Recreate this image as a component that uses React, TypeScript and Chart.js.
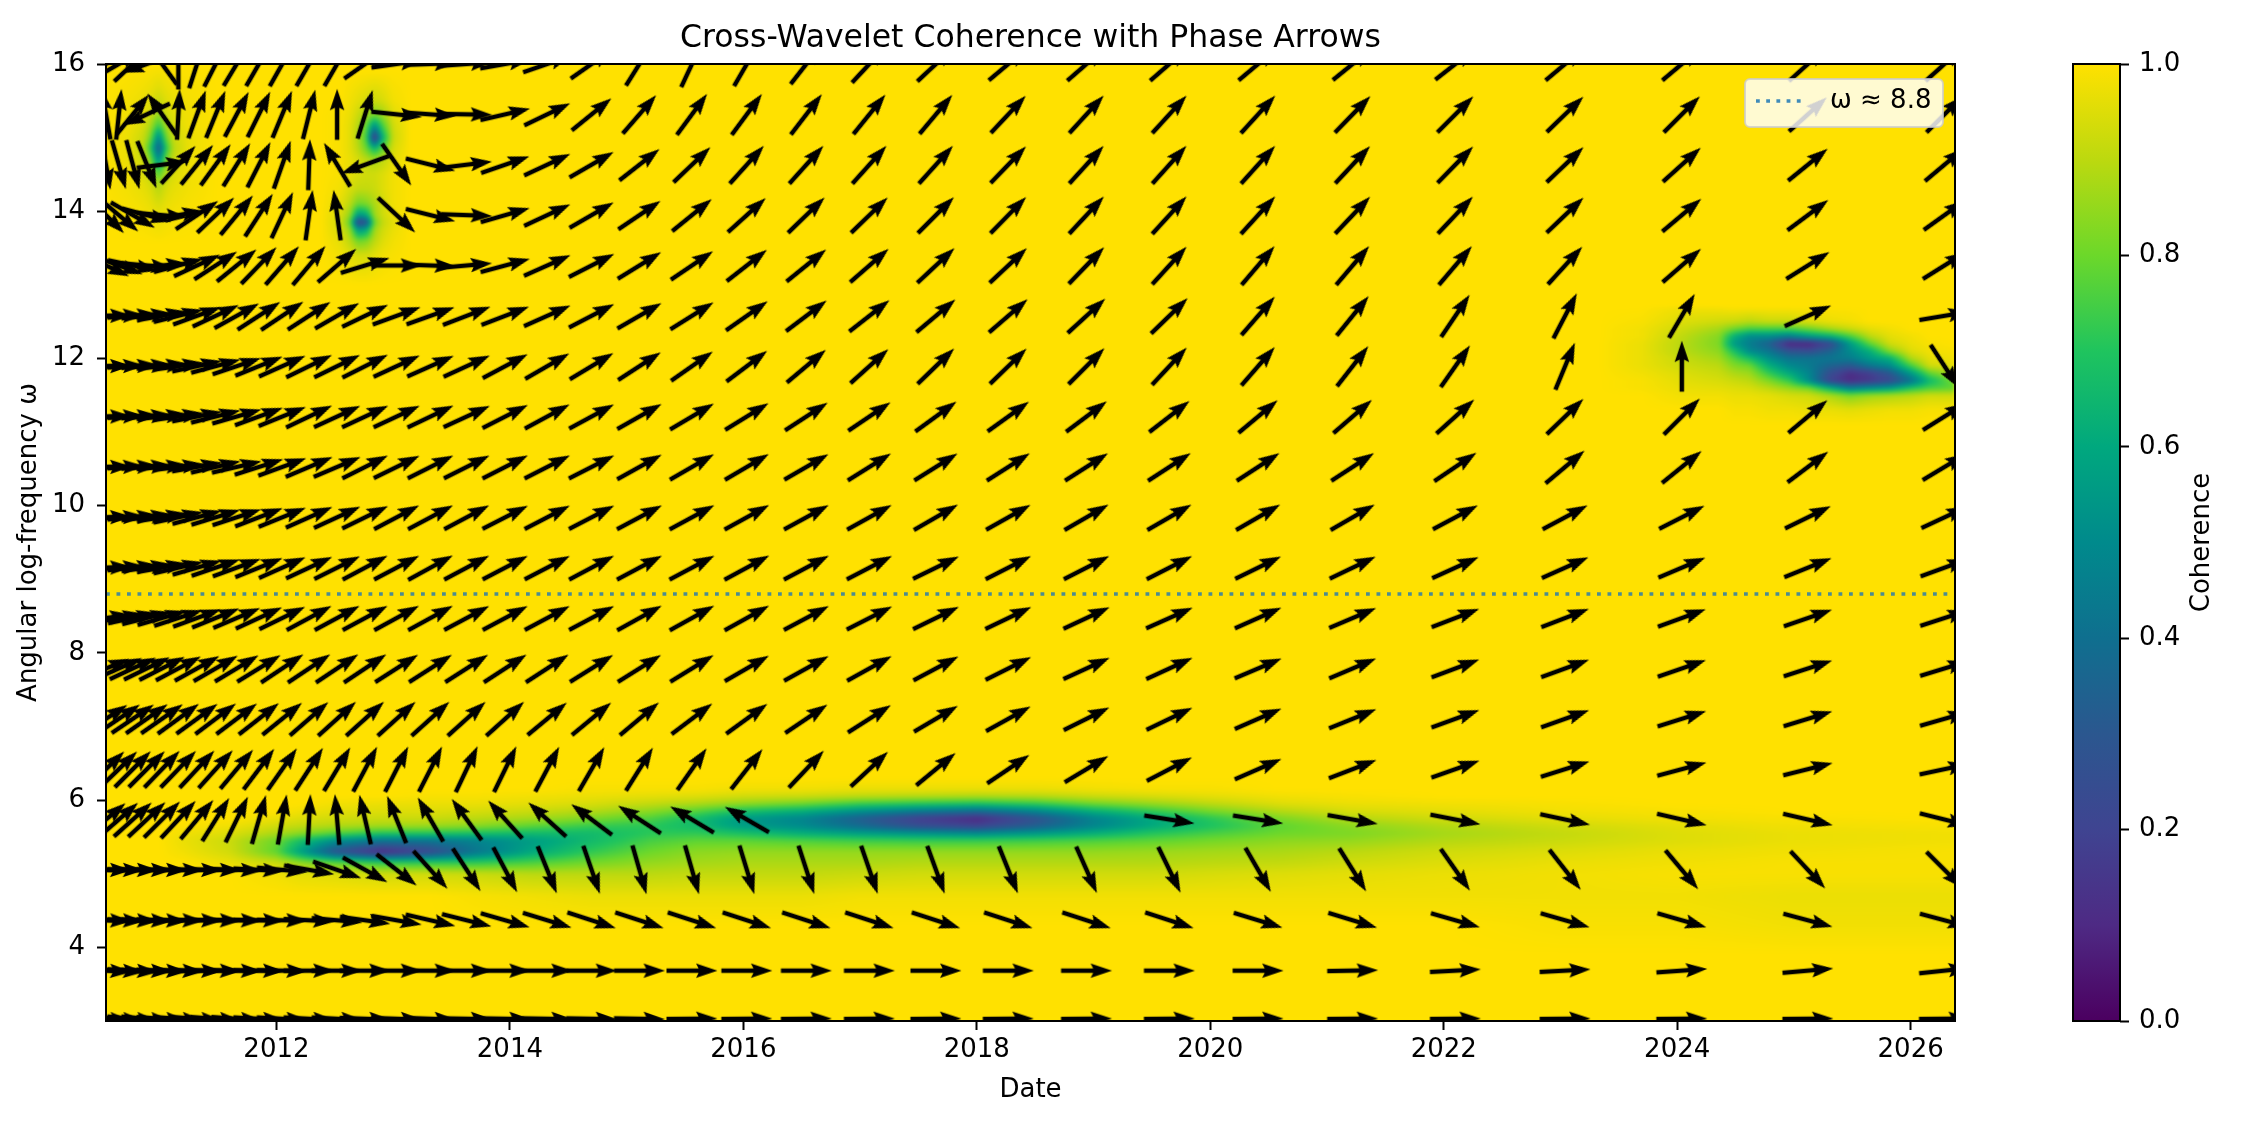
import React, { useEffect, useRef } from "react";
import { Chart, registerables } from "chart.js";

Chart.register(...registerables);

const FONT = '"DejaVu Sans"';
const chartTitle = "Cross-Wavelet Coherence with Phase Arrows";
const xAxisTitle = "Date";
const yAxisTitle = "Angular log-frequency ω";
const colorbarTitle = "Coherence";
const legendLabel = "ω ≈ 8.8";
const referenceOmega = 8.8;
const xRange = [2010.54, 2026.38];
const yRange = [3, 16];
const xTicks = [2012, 2014, 2016, 2018, 2020, 2022, 2024, 2026];
const yTicks = [4, 6, 8, 10, 12, 14, 16];
const colorbarTicks = [0, 0.2, 0.4, 0.6, 0.8, 1];

const colourStops: [number, string][] = [
  [0, "#4b0060"], [0.1, "#4e2a84"], [0.2, "#3f4491"], [0.3, "#2b578f"], [0.4, "#0f6f8f"],
  [0.5, "#008a8c"], [0.6, "#00a87e"], [0.7, "#1fc45e"], [0.8, "#6cd82a"], [0.9, "#bcd90f"], [1, "#ffe100"],
];

// Arrow grid: dates (columns) and frequencies (rows)
const arrowDates = [
  2010.54, 2010.65, 2010.77, 2010.89, 2011.02, 2011.16, 2011.32, 2011.48, 2011.66, 2011.85, 2012.05, 2012.28,
  2012.52, 2012.76, 2013.03, 2013.32, 2013.63, 2013.96, 2014.32, 2014.70, 2015.11, 2015.56, 2016.03, 2016.54,
  2017.08, 2017.65, 2018.27, 2018.94, 2019.65, 2020.41, 2021.22, 2022.10, 2023.04, 2024.04, 2025.12, 2026.29,
];
const arrowFreqs = [
  3.03, 3.684, 4.368, 5.053, 5.737, 6.421, 7.105, 7.789, 8.474, 9.158,
  9.842, 10.526, 11.211, 11.895, 12.579, 13.263, 13.947, 14.632, 15.316, 16.0,
];
const _ = null;
const phase00 = [-5,-5,-5,-5,-4,-4,-4,-4,-4,-3,-3,-3,-3,-2,-2,-2,-1,-1,-1,-1,-1,0.5,0.5,0.5,0.5,0.5,0.5,0.5,0.5,0.5,0.5,0.5,0.5,0.5,0.5,0.5];
const phase01 = [-3,-3,-3,-2,-2,-2,-1,-1,-1,-1,-1,0,0,0,0,0,0,0,0,0,0,0,0,0,0,0,0,0,0,0,1,3,3,4,5,6];
const phase02 = [-2,-2,-2,-2,-2,-1,-1,-1,-1,-1,-1,-3,-5,-8,-10,-13,-14,-16,-17,-18,-18,-18,-18,-18,-18,-18,-18,-18,-18,-17,-17,-16,-16,-16,-15,-15];
const phase03 = [-1,-1,-1,-1,-1,-1,-1,-1,-2,-3,-5,-10,-19,-29,-38,-48,-57,-62,-68,-71,-74,-74,-73,-72,-71,-70,-68,-66,-64,-60,-58,-55,-52,-50,-47,-45];
const phase04 = [40,41,42,43,45,47,50,58,64,74,80,87,95,103,112,120,126,132,138,143,147,149,150,_,_,_,_,_,-9,-9,-10,-11,-12,-13,-13,-14];
const phase05 = [44,44,45,45,46,46,47,48,50,53,55,57,59,62,63,63,64.6,64,62,60,58,55,52,46.6,43,39.5,34,31,27.5,23.6,21,19.4,17.5,15,14,12];
const phase06 = [33,34,34,35,35,36,36,37,37,38,39,41,42,42,42,42,42,42,39.6,39.6,40,37,36,34,32.5,30.5,29,26.4,25.7,23.6,22,20,19.6,17.5,17,16];
const phase07 = [22,24,25,26,27,28,29,30,31,31.6,33.7,33.7,33.7,33.7,32.6,32.6,32.6,33,33,32,32,31.6,30,29,29,28,26.6,24.7,24.7,23,23,20.5,20,19,18,17];
const phase08 = [8,10,12,14,16,18,20,22,23,24.7,26,28.3,28.3,28.3,28.6,28.7,28,28,28,28,29,29,29,28,27,26,25.6,25,24,24,23,21,21,20,19,18];
const phase09 = [2,4,6,8,10,13,16,18.7,20,22,24,25,26.5,28,27.8,28.7,28,27.5,27.4,28,28,28,28.4,28,27.4,26,27,27,27,26,25.6,24.4,24,23,22,20];
const phase10 = [2,3,5,7,9,12,15,17,18,21,22,24,24.7,26,27.8,28,28,27,27.4,27.4,28,28.4,28.8,28.6,29,30,29.3,30,30,30,30,28,28,27,26,25];
const phase11 = [1,2,3,4,5,7,10,13,13,17.7,20,23,23,26.6,26,26.6,26.6,27,27,27,29,30,30.4,30,32,32,32.5,32.5,33,33,33,34,40,39,37,31];
const phase12 = [1,2,3,4,6,8,11,14,16,20,22,25.5,24.7,25,25,25.5,24.7,27,28.4,28.4,29.5,30.6,31.6,33,34,36,35.7,36.8,37.7,39.8,40.8,42,44,45,40,32];
const phase13 = [1,2,3,4,6,8,12,15,18.5,22,24,26,26,26.7,24.8,24,24.7,28,30,31,33,35,37,40,42,44,44,45,47,49,52,55,67.5,90,_,-57];
const phase14 = [1,2,4,6,10,14,20,25,29,33,33.7,33,30,25.6,20,19.6,21,21,24,27.4,30,32,35,37,38,40,40.7,42.4,44,49,51,56,62.6,59.6,24,9.5];
const phase15 = [-25,-20,-12,-5,5,15,25,33,39,46,49,50,41,17,0,-2,5,15,24,27,31.6,34,38,39,41,43,43,46,47.6,49.6,49.6,49.6,47.6,41,32,32];
const phase16 = [-45,-40,-30,-15,-5,10,33.7,43.6,50.5,57,65,82,98,_,-43,-14,-2,16,25,30,34,39,42,44,44,45,45.5,47,47.6,47.6,46.6,46.6,43.6,40,36.6,35.6];
const phase17 = [-80,-74,-75,-68,7,47.6,51,54,58,63,70.6,88,121,200,-55,-14,7,19,25,30,38,43.6,48,48,48,48,46,47.6,48,48,47,45.6,43.6,42,39,40];
const phase18 = [100,84,51,205,125,87,70,67.8,62,63.6,67.5,76,90,72.7,-6,-4,-1,13,25.7,39,49,53.6,53.6,52.5,51,50,46.8,47.6,47.6,47.6,45.8,45,44,45,42,45];
const phase19 = [30,30,43,200,126,90,72,63,59,60,60.6,60,60,35,8,2,4,10,19,35,58,65,60,52,47,43,40,41,41,40,39,38,40,40,42,42];
const arrowPhases = [phase00,phase01,phase02,phase03,phase04,phase05,phase06,phase07,phase08,phase09,phase10,phase11,phase12,phase13,phase14,phase15,phase16,phase17,phase18,phase19];

// Coherence: the field is 1 outside these four tables
const bandFreqs = [3.9,4.3,4.7,5.0,5.15,5.3,5.45,5.55,5.65,5.75,5.85,5.95,6.05,6.15,6.3,6.5];
const bandDates = [2011.0,2011.2,2011.6,2012.0,2012.2,2012.5,2012.9,2013.3,2013.7,2014.2,2014.7,2015.2,2015.6,2016.0,2016.5,2017.0,2017.5,2018.0,2018.5,2019.0,2019.5,2020.0,2020.6,2021.2,2022.0,2023.0,2024.0,2025.0,2026.4];
const bandByDate = [
  [1,1,1,1,1,1,1,1,1,1,1,1,1,1,1,1],
  [1,1,1,1,1,.98,.97,.98,1,1,1,1,1,1,1,1],
  [1,1,1,1,.97,.93,.92,.95,.98,1,1,1,1,1,1,1],
  [1,1,1,.98,.92,.78,.8,.88,.93,.97,1,1,1,1,1,1],
  [1,1,1,.96,.85,.58,.68,.84,.91,.95,.98,1,1,1,1,1],
  [1,1,1,.95,.78,.28,.52,.77,.89,.93,.96,.98,1,1,1,1],
  [1,1,1,.93,.72,.1,.42,.7,.87,.92,.95,.97,1,1,1,1],
  [1,1,1,.93,.72,.22,.42,.7,.86,.92,.95,.97,.99,1,1,1],
  [1,1,.99,.92,.72,.42,.47,.68,.84,.9,.94,.97,.99,1,1,1],
  [1,1,.98,.9,.76,.6,.56,.66,.78,.87,.92,.96,.98,1,1,1],
  [1,1,.97,.9,.81,.72,.66,.66,.73,.82,.89,.94,.97,.99,1,1],
  [1,1,.97,.9,.85,.8,.75,.71,.71,.76,.84,.91,.96,.99,1,1],
  [1,1,.97,.91,.87,.84,.78,.72,.66,.67,.77,.88,.95,.99,1,1],
  [1,1,.97,.91,.88,.85,.78,.68,.56,.55,.68,.84,.93,.98,1,1],
  [1,1,.97,.91,.88,.85,.76,.62,.5,.48,.62,.8,.92,.98,1,1],
  [1,1,.98,.92,.88,.85,.74,.57,.38,.33,.52,.73,.9,.97,1,1],
  [1,1,.98,.93,.89,.85,.73,.53,.25,.18,.44,.7,.89,.97,1,1],
  [1,1,.98,.93,.89,.85,.73,.5,.2,.1,.38,.68,.88,.97,1,1],
  [1,1,.98,.93,.89,.85,.74,.55,.33,.27,.48,.72,.89,.97,1,1],
  [1,1,.98,.93,.89,.85,.76,.62,.48,.47,.62,.8,.92,.98,1,1],
  [1,1,.98,.93,.89,.86,.78,.7,.6,.6,.72,.85,.94,.99,1,1],
  [1,1,.98,.94,.9,.87,.81,.75,.69,.71,.81,.9,.96,.99,1,1],
  [1,1,.98,.95,.91,.88,.84,.8,.78,.82,.89,.95,.98,1,1,1],
  [1,1,.98,.96,.93,.9,.85,.82,.84,.89,.94,.97,.99,1,1,1],
  [1,1,.98,.97,.95,.93,.89,.87,.89,.93,.96,.98,1,1,1,1],
  [1,.99,.98,.98,.97,.95,.92,.91,.93,.96,.98,.99,1,1,1,1],
  [1,.99,.98,.99,.98,.97,.95,.95,.96,.98,.99,1,1,1,1,1],
  [1,.98,.97,.99,.99,.98,.97,.97,.98,.99,1,1,1,1,1,1],
  [1,.98,.97,.99,.99,.99,.98,.98,.99,1,1,1,1,1,1,1],
];

const spotADates = [2010.49,2010.73,2010.86,2010.92,2010.99,2011.06,2011.12,2011.25,2011.5];
const spotAFreqs = [13.56,14.06,14.36,14.56,14.71,14.86,15.01,15.16,15.36,15.66,16.0];
const spotA = [
  [1,1,1,1,1,1,1,1,1],
  [1,.99,.98,.97,.95,.97,.98,.99,1],
  [1,.98,.96,.94,.88,.94,.96,.98,1],
  [1,.98,.94,.88,.72,.88,.94,.98,1],
  [1,.97,.92,.82,.5,.82,.92,.97,1],
  [1,.97,.9,.72,.32,.72,.9,.97,1],
  [1,.97,.92,.82,.5,.82,.92,.97,1],
  [1,.98,.94,.88,.72,.88,.94,.98,1],
  [1,.98,.96,.94,.88,.94,.96,.98,1],
  [1,.99,.98,.97,.95,.97,.98,.99,1],
  [1,1,1,1,1,1,1,1,1],
];

const spotBDates = [2012.38,2012.55,2012.63,2012.70,2012.77,2012.84,2012.91,2013.0,2013.15];
const spotBFreqs = [13.0,13.4,13.6,13.75,13.85,13.95,14.1,14.3,14.5,14.7,14.85,15.0,15.15,15.3,15.5,15.9];
const spotB = [
  [1,1,1,1,1,1,1,1,1],
  [1,.98,.96,.94,.94,.96,.98,.99,1],
  [1,.96,.9,.8,.82,.9,.95,.98,1],
  [1,.94,.85,.55,.6,.86,.93,.97,1],
  [1,.93,.78,.2,.28,.8,.91,.96,1],
  [1,.94,.85,.55,.6,.86,.93,.97,1],
  [1,.96,.9,.8,.82,.88,.93,.98,1],
  [1,.98,.94,.91,.91,.92,.95,.98,1],
  [1,.99,.96,.94,.93,.93,.95,.98,1],
  [1,.99,.97,.94,.9,.87,.9,.96,1],
  [1,.99,.96,.9,.8,.65,.78,.94,1],
  [1,.99,.96,.88,.74,.15,.62,.92,1],
  [1,.99,.96,.89,.78,.5,.74,.93,1],
  [1,.99,.97,.92,.86,.8,.85,.95,1],
  [1,1,.98,.96,.94,.92,.94,.98,1],
  [1,1,1,1,1,1,1,1,1],
];

const spotCDates = [2023.33,2023.7,2024.02,2024.36,2024.49,2024.62,2024.79,2024.96,2025.13,2025.31,2025.48,2025.65,2025.82,2026.0,2026.16,2026.38];
const spotCFreqs = [11.1,11.3,11.5,11.6,11.7,11.8,11.9,12.0,12.1,12.2,12.3,12.4,12.5,12.7];
const spotC = [
  [1,1,1,1,1,1,1,1,1,1,1,1,1,1,1,1],
  [1,1,1,1,.99,.99,.98,.98,.97,.97,.96,.97,.98,.98,.99,.99],
  [1,1,.98,.98,.97,.97,.96,.94,.93,.88,.82,.86,.88,.9,.93,.93],
  [1,.99,.97,.96,.95,.94,.9,.85,.8,.62,.45,.5,.55,.68,.75,.78],
  [1,.99,.96,.94,.92,.9,.82,.72,.5,.2,.1,.15,.22,.4,.65,.82],
  [1,.98,.95,.92,.88,.86,.72,.6,.48,.25,.12,.18,.3,.55,.78,.9],
  [1,.97,.93,.9,.83,.8,.62,.5,.44,.35,.3,.42,.5,.74,.93,.96],
  [1,.97,.92,.87,.77,.68,.52,.42,.42,.43,.45,.55,.62,.88,.96,.98],
  [1,.97,.9,.84,.68,.5,.42,.28,.25,.35,.5,.62,.83,.95,.98,.99],
  [1,.97,.9,.82,.55,.45,.33,.08,.08,.22,.55,.78,.93,.97,.99,1],
  [1,.98,.91,.83,.62,.5,.5,.45,.55,.62,.75,.9,.96,.98,1,1],
  [1,.98,.93,.87,.8,.75,.75,.75,.8,.87,.92,.96,.98,1,1,1],
  [1,.99,.95,.93,.92,.9,.92,.92,.95,.97,.98,1,1,1,1,1],
  [1,1,.98,.99,1,1,1,1,1,1,1,1,1,1,1,1],
];

const transpose = (m: number[][]) => m[0].map((_v, j) => m.map((r) => r[j]));
const heatPatches = [
  { dates: bandDates, freqs: bandFreqs, values: transpose(bandByDate) },
  { dates: spotADates, freqs: spotAFreqs, values: spotA },
  { dates: spotBDates, freqs: spotBFreqs, values: spotB },
  { dates: spotCDates, freqs: spotCFreqs, values: spotC },
];

const hexRgb = (h: string) => [1, 3, 5].map((i) => parseInt(h.slice(i, i + 2), 16));
const stopRgb = colourStops.map(([, c]) => hexRgb(c));
function colourAt(v: number) {
  const s = Math.max(0, Math.min(0.99999, v)) * (colourStops.length - 1);
  const i = Math.floor(s);
  const t = s - i;
  const a = stopRgb[i];
  const b = stopRgb[i + 1];
  return [a[0] + (b[0] - a[0]) * t, a[1] + (b[1] - a[1]) * t, a[2] + (b[2] - a[2]) * t];
}

function locate(grid: number[], v: number) {
  if (v < grid[0] || v > grid[grid.length - 1]) return null;
  let i = 0;
  while (i < grid.length - 2 && v > grid[i + 1]) i++;
  return [i, (v - grid[i]) / (grid[i + 1] - grid[i])];
}

function buildHeat(chart: any) {
  const { left, top, width, height } = chart.chartArea;
  const w = Math.round(width);
  const h = Math.round(height);
  const field = new Float32Array(w * h).fill(1);
  const xs = Array.from({ length: w }, (_v, i) => chart.scales.x.getValueForPixel(left + i + 0.5));
  const ys = Array.from({ length: h }, (_v, i) => chart.scales.y.getValueForPixel(top + i + 0.5));
  for (const p of heatPatches) {
    const xl = xs.map((v) => locate(p.dates, v));
    const yl = ys.map((v) => locate(p.freqs, v));
    for (let r = 0; r < h; r++) {
      const ly = yl[r];
      if (!ly) continue;
      for (let c = 0; c < w; c++) {
        const lx = xl[c];
        if (!lx) continue;
        const a = p.values[ly[0]];
        const b = p.values[ly[0] + 1];
        const top0 = a[lx[0]] + (a[lx[0] + 1] - a[lx[0]]) * lx[1];
        const bot0 = b[lx[0]] + (b[lx[0] + 1] - b[lx[0]]) * lx[1];
        const val = top0 + (bot0 - top0) * ly[1];
        if (val < field[r * w + c]) field[r * w + c] = val;
      }
    }
  }
  const off = document.createElement("canvas");
  off.width = w;
  off.height = h;
  const octx = off.getContext("2d")!;
  const img = octx.createImageData(w, h);
  for (let i = 0; i < w * h; i++) {
    const col = colourAt(field[i]);
    img.data[i * 4] = col[0];
    img.data[i * 4 + 1] = col[1];
    img.data[i * 4 + 2] = col[2];
    img.data[i * 4 + 3] = 255;
  }
  octx.putImageData(img, 0, 0);
  return off;
}

function arrowGlyph() {
  const c = document.createElement("canvas");
  c.width = 64;
  c.height = 28;
  const g = c.getContext("2d")!;
  const L = 51;
  const sw = 4.3;
  g.translate(32, 14);
  g.beginPath();
  g.moveTo(-L / 2, -sw / 2);
  g.lineTo(L / 2 - sw * 4.4, -sw / 2);
  g.lineTo(L / 2 - sw * 5, -sw * 1.7);
  g.lineTo(L / 2, 0);
  g.lineTo(L / 2 - sw * 5, sw * 1.7);
  g.lineTo(L / 2 - sw * 4.4, sw / 2);
  g.lineTo(-L / 2, sw / 2);
  g.closePath();
  g.fillStyle = "#000";
  g.fill();
  return c;
}

const heatPlugin = {
  id: "heat",
  beforeDatasetsDraw(chart: any) {
    const { left, top, width, height } = chart.chartArea;
    if (!chart.$heat) chart.$heat = buildHeat(chart);
    const ctx = chart.ctx;
    ctx.save();
    ctx.beginPath();
    ctx.rect(left, top, width, height);
    ctx.clip();
    ctx.fillStyle = colourStops[colourStops.length - 1][1];
    ctx.fillRect(left, top, width, height);
    (ctx as any).filter = "blur(2px)";
    ctx.drawImage(chart.$heat, left, top, width, height);
    ctx.restore();
  },
  afterDatasetsDraw(chart: any) {
    const { left, top, width, height } = chart.chartArea;
    const ctx = chart.ctx;
    ctx.save();
    ctx.beginPath();
    const bx = 1745, by = 79, bw = 198, bh = 48;
    ctx.roundRect(bx, by, bw, bh, 5);
    ctx.fillStyle = "rgba(255,255,255,0.82)";
    ctx.fill();
    ctx.strokeStyle = "rgba(204,204,204,0.8)";
    ctx.lineWidth = 2;
    ctx.stroke();
    ctx.beginPath();
    ctx.setLineDash([3.8, 6.4]);
    ctx.lineWidth = 3.6;
    ctx.strokeStyle = "rgba(31,119,180,0.85)";
    ctx.moveTo(1756, 101);
    ctx.lineTo(1806, 101);
    ctx.stroke();
    ctx.setLineDash([]);
    ctx.fillStyle = "#000";
    ctx.font = `26px ${FONT}`;
    ctx.textBaseline = "middle";
    ctx.textAlign = "left";
    ctx.fillText(legendLabel, 1830, 101);
    ctx.strokeStyle = "#000";
    ctx.lineWidth = 2;
    ctx.strokeRect(left, top, width, height);
    ctx.restore();
  },
};

const colorbarPlugin = {
  id: "colorbarFrame",
  afterDraw(chart: any) {
    const { left, top, width, height } = chart.chartArea;
    const ctx = chart.ctx;
    ctx.save();
    ctx.strokeStyle = "#000";
    ctx.lineWidth = 2;
    ctx.strokeRect(left, top, width, height);
    ctx.translate(202, (top + top + height) / 2);
    ctx.rotate(-Math.PI / 2);
    ctx.fillStyle = "#000";
    ctx.font = `26px ${FONT}`;
    ctx.textAlign = "center";
    ctx.textBaseline = "middle";
    ctx.fillText(colorbarTitle, 0, 0);
    ctx.restore();
  },
};

export default function App() {
  const mainRef = useRef<HTMLCanvasElement>(null);
  const barRef = useRef<HTMLCanvasElement>(null);

  useEffect(() => {
    const glyph = arrowGlyph();
    const arrowPoints = arrowFreqs.flatMap((freq, r) =>
      arrowDates.flatMap((date, c) => {
        const angle = arrowPhases[r][c];
        return angle === null ? [] : [{ x: date, y: freq, angle }];
      })
    );
    const tickStyle = { size: 26, family: FONT };
    const main = new Chart(mainRef.current!, {
      type: "scatter",
      plugins: [heatPlugin],
      data: {
        datasets: [
          {
            type: "line",
            label: legendLabel,
            data: [
              { x: xRange[0], y: referenceOmega },
              { x: xRange[1], y: referenceOmega },
            ],
            borderColor: "rgba(31,119,180,0.8)",
            borderWidth: 3.6,
            borderDash: [3.8, 6.7],
            pointRadius: 0,
            clip: 0,
          } as any,
          {
            label: "Phase",
            data: arrowPoints,
            showLine: false,
            clip: 0,
            pointRadius: 4,
            pointStyle: glyph,
            pointRotation: (ctx: any) => (ctx.raw ? -ctx.raw.angle : 0),
          } as any,
        ],
      },
      options: {
        responsive: false,
        animation: false,
        devicePixelRatio: 1,
        events: [],
        layout: { padding: { left: 0, right: 298, top: 0, bottom: 0 } },
        plugins: {
          legend: { display: false },
          tooltip: { enabled: false },
          title: {
            display: true,
            text: chartTitle,
            color: "#000",
            fullSize: false,
            font: { size: 31.5, family: FONT, weight: "normal" },
            padding: { top: 19.6, bottom: 6.6 },
          },
        },
        scales: {
          x: {
            type: "linear",
            min: xRange[0],
            max: xRange[1],
            afterFit: (s: any) => { s.height = 105; },
            afterBuildTicks: (s: any) => { s.ticks = xTicks.map((value) => ({ value })); },
            grid: { drawOnChartArea: false, tickLength: 9, tickColor: "#000", tickWidth: 2 },
            border: { color: "#000", width: 2 },
            ticks: { color: "#000", font: tickStyle, padding: 5, maxRotation: 0, autoSkip: false, callback: (v: any) => String(v) },
            title: { display: true, text: xAxisTitle, color: "#000", font: tickStyle, padding: { top: 0, bottom: 20.4 } },
          },
          y: {
            type: "linear",
            min: yRange[0],
            max: yRange[1],
            afterFit: (s: any) => { s.width = 106; },
            afterBuildTicks: (s: any) => { s.ticks = yTicks.map((value) => ({ value })); },
            grid: { drawOnChartArea: false, tickLength: 9, tickColor: "#000", tickWidth: 2 },
            border: { color: "#000", width: 2 },
            ticks: { color: "#000", font: tickStyle, padding: 12, autoSkip: false, callback: (v: any) => String(v) },
            title: { display: true, text: yAxisTitle, color: "#000", font: tickStyle, padding: { top: 13.4, bottom: 0 } },
          },
        },
      } as any,
    });

    const bar = new Chart(barRef.current!, {
      type: "bar",
      plugins: [colorbarPlugin],
      data: {
        labels: [""],
        datasets: [
          {
            label: colorbarTitle,
            data: [[0, 1]],
            barPercentage: 1,
            categoryPercentage: 1,
            backgroundColor: (ctx: any) => {
              const y = ctx.chart.scales.y;
              const y0 = y.getPixelForValue(0);
              const y1 = y.getPixelForValue(1);
              if (!Number.isFinite(y0) || !Number.isFinite(y1)) return colourStops[0][1];
              const g = ctx.chart.ctx.createLinearGradient(0, y0, 0, y1);
              colourStops.forEach(([v, c]) => g.addColorStop(v, c));
              return g;
            },
          } as any,
        ],
      },
      options: {
        responsive: false,
        animation: false,
        devicePixelRatio: 1,
        events: [],
        layout: { padding: { left: 73, right: 0, top: 64, bottom: 105 } },
        plugins: { legend: { display: false }, tooltip: { enabled: false }, title: { display: false } },
        scales: {
          x: { display: false },
          y: {
            position: "right",
            min: 0,
            max: 1,
            afterFit: (s: any) => { s.width = 133; },
            afterBuildTicks: (s: any) => { s.ticks = colorbarTicks.map((value) => ({ value })); },
            grid: { drawOnChartArea: false, tickLength: 9, tickColor: "#000", tickWidth: 2 },
            border: { display: false },
            ticks: { color: "#000", font: tickStyle, padding: 10, autoSkip: false, callback: (v: any) => Number(v).toFixed(1) },
          },
        },
      } as any,
    });

    return () => {
      main.destroy();
      bar.destroy();
    };
  }, []);

  return (
    <div style={{ position: "fixed", left: 0, top: 0, width: 2253, height: 1126, background: "#fff", overflow: "hidden" }}>
      <canvas ref={mainRef} width={2253} height={1126} style={{ position: "absolute", left: 0, top: 0, width: 2253, height: 1126, filter: "blur(0.7px)" }} />
      <canvas ref={barRef} width={253} height={1126} style={{ position: "absolute", left: 2000, top: 0, width: 253, height: 1126, filter: "blur(0.7px)" }} />
    </div>
  );
}
